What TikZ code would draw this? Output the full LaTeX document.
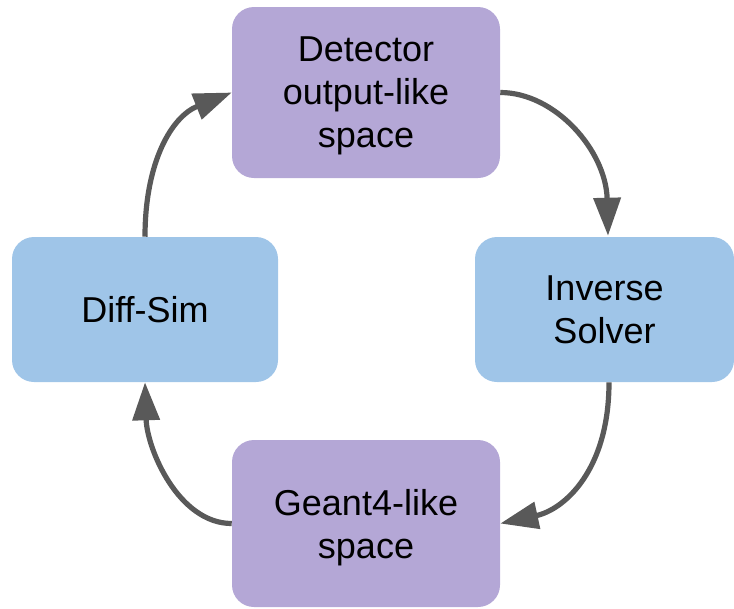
\documentclass[tikz,border=0pt]{standalone}
\usepackage{fontspec}
\setmainfont{Liberation Sans}
\usetikzlibrary{arrows.meta,calc}
\definecolor{boxpurple}{HTML}{B4A7D6}
\definecolor{boxblue}{HTML}{9FC5E8}
\definecolor{arrowgray}{HTML}{595959}
\begin{document}
\begin{tikzpicture}[x=0.75pt,y=-0.75pt,
  box/.style={rounded corners=16.5pt, inner sep=0pt, align=center,
    font=\fontsize{27}{32.25}\selectfont, text=black, text depth=0pt},
  pbox/.style={box, fill=boxpurple},
  bbox/.style={box, fill=boxblue},
  arr/.style={draw=arrowgray, line width=3.9pt,
    -{Triangle[length=28.5pt,width=20pt]}, arrowgray}]
\useasboundingbox (0,0) rectangle (734,608);
\node[pbox, minimum width=201pt, minimum height=128.25pt] (top) at (366,92.5) {Detector\\output-like\\space};
\node[bbox, minimum width=199.5pt, minimum height=108.75pt] (left) at (145,309.5) {Diff-Sim};
\node[bbox, minimum width=194.25pt, minimum height=108.75pt] (right) at (604.5,309.5) {Inverse\\Solver};
\node[pbox, minimum width=201pt, minimum height=125.25pt] (bottom) at (366,523.5) {Geant4-like\\space};
\draw[arr] (top.east) .. controls +(55,0) and +(-2,-85) .. ($(right.north)+(3.5,-1)$);
\draw[arr] ($(right.south)+(4.5,0)$) .. controls +(0,88) and +(64,-14) .. (bottom.east);
\draw[arr] (bottom.west) .. controls +(-53,0) and +(2,67) .. (left.south);
\draw[arr] (left.north) .. controls +(0,-75) and +(-60,24) .. (top.west);
\end{tikzpicture}
\end{document}
